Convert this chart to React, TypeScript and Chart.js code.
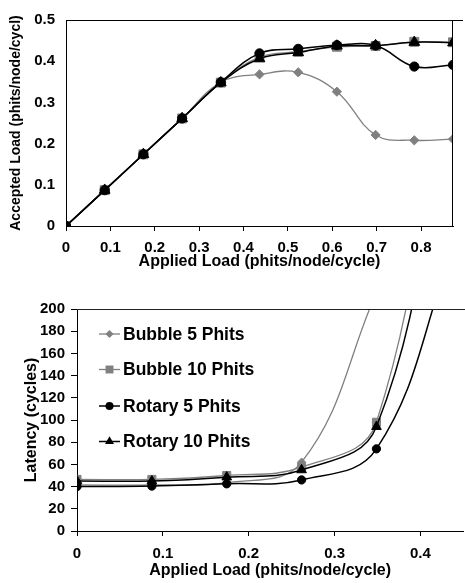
import React, { useEffect, useRef } from "react";
import { Chart, registerables } from "chart.js";

Chart.register(...registerables);

// ---------- data ----------
const loadSteps = [0, 0.0872, 0.1744, 0.2616, 0.3488, 0.436, 0.5232, 0.6104, 0.6976, 0.7848, 0.872];

const seriesNames = ["Bubble 5 Phits", "Bubble 10 Phits", "Rotary 5 Phits", "Rotary 10 Phits"];

// Accepted load (top chart)
const acceptedBubble5 = [0, 0.087, 0.174, 0.261, 0.349, 0.368, 0.373, 0.326, 0.221, 0.208, 0.211];
const acceptedBubble10 = [0, 0.087, 0.174, 0.261, 0.348, 0.41, 0.423, 0.435, 0.437, 0.447, 0.446];
const acceptedRotary5 = [0, 0.087, 0.174, 0.261, 0.349, 0.419, 0.43, 0.439, 0.438, 0.387, 0.391];
const acceptedRotary10 = [0, 0.087, 0.174, 0.261, 0.348, 0.406, 0.421, 0.437, 0.438, 0.446, 0.445];

// Latency (bottom chart)
const latencyBubble5 = [41.5, 41.5, 43.5, 62, 215];
const latencyBubble10 = [46.5, 46.5, 50, 57.5, 98, 480];
const latencyRotary5 = [40, 40.5, 42.5, 46, 74, 250];
const latencyRotary10 = [45, 45, 48.5, 55, 94, 400];

// ---------- styles ----------
const FONT = '"Liberation Sans", Arial, Helvetica, sans-serif';
const GRAY = "#808080";
const BLACK = "#000000";

const styles = [
  { color: GRAY, pointStyle: "rectRot", r: 4.6, width: 1.3, order: 3 },
  { color: GRAY, pointStyle: "rect", r: 6.3, width: 1.3, order: 2 },
  { color: BLACK, pointStyle: "circle", r: 4.6, width: 1.5, order: 0 },
  { color: BLACK, pointStyle: "triangle", r: 6.2, width: 1.5, order: 1 },
];

function toPoints(values: number[]) {
  return values.map((v, i) => ({ x: loadSteps[i], y: v }));
}

function makeDatasets(series: number[][], scale: number) {
  return series.map((vals, i) => ({
    label: seriesNames[i],
    data: toPoints(vals),
    borderColor: styles[i].color,
    backgroundColor: styles[i].color,
    borderWidth: styles[i].width,
    pointStyle: styles[i].pointStyle,
    pointRadius: styles[i].r * scale,
    pointBorderWidth: 1,
    pointBackgroundColor: styles[i].color,
    pointBorderColor: styles[i].color,
    tension: 0.4,
    capBezierPoints: false,
    order: styles[i].order,
    fill: false,
  }));
}

const framePlugin = {
  id: "frame",
  afterDatasetsDraw(chart: any, _args: any, opts: any) {
    const { ctx, chartArea } = chart;
    ctx.save();
    ctx.strokeStyle = opts.color || "#000";
    ctx.lineWidth = 1;
    ctx.beginPath();
    if (opts.top) {
      ctx.moveTo(chartArea.left, chartArea.top + 0.5);
      ctx.lineTo(chartArea.right + 10, chartArea.top + 0.5);
    }
    if (opts.right) {
      ctx.moveTo(chartArea.right - 0.5, chartArea.top);
      ctx.lineTo(chartArea.right - 0.5, chartArea.bottom);
    }
    ctx.stroke();
    ctx.restore();
  },
};

function drawMarker(ctx: CanvasRenderingContext2D, style: string, x: number, y: number, r: number) {
  ctx.beginPath();
  if (style === "circle") {
    ctx.arc(x, y, r, 0, Math.PI * 2);
  } else if (style === "rect") {
    const s = r * Math.SQRT1_2;
    ctx.rect(x - s, y - s, 2 * s, 2 * s);
  } else if (style === "rectRot") {
    ctx.moveTo(x, y - r);
    ctx.lineTo(x + r, y);
    ctx.lineTo(x, y + r);
    ctx.lineTo(x - r, y);
    ctx.closePath();
  } else if (style === "triangle") {
    for (let k = 0; k < 3; k++) {
      const a = (k * 2 * Math.PI) / 3;
      const px = x + Math.sin(a) * r;
      const py = y - Math.cos(a) * r;
      if (k === 0) ctx.moveTo(px, py);
      else ctx.lineTo(px, py);
    }
    ctx.closePath();
  }
  ctx.fill();
}

const legendPlugin = {
  id: "insideLegend",
  afterDraw(chart: any) {
    const { ctx, chartArea } = chart;
    ctx.save();
    const x0 = chartArea.left + 22;
    const x1 = chartArea.left + 43;
    const xm = (x0 + x1) / 2;
    const tx = chartArea.left + 46;
    const rows = [25, 60.5, 97, 132.5];
    ctx.font = `bold 17.5px ${FONT}`;
    ctx.textBaseline = "middle";
    ctx.textAlign = "left";
    seriesNames.forEach((name, i) => {
      const y = chartArea.top + rows[i];
      const st = styles[i];
      ctx.strokeStyle = st.color;
      ctx.fillStyle = st.color;
      ctx.lineWidth = st.width;
      ctx.beginPath();
      ctx.moveTo(x0, y);
      ctx.lineTo(x1, y);
      ctx.stroke();
      drawMarker(ctx, st.pointStyle, xm, y, st.pointStyle === "rectRot" ? 4 : st.pointStyle === "rect" ? 5.6 : st.pointStyle === "triangle" ? 5.2 : 4);
      ctx.fillStyle = "#000";
      ctx.fillText(name, tx, y + 1);
    });
    ctx.restore();
  },
};

const tickFont = { family: FONT, size: 15, weight: "bold" as const };

export default function App() {
  const topRef = useRef<HTMLCanvasElement | null>(null);
  const botRef = useRef<HTMLCanvasElement | null>(null);

  useEffect(() => {
    const top = new Chart(topRef.current as HTMLCanvasElement, {
      type: "line",
      data: {
        datasets: makeDatasets([acceptedBubble5, acceptedBubble10, acceptedRotary5, acceptedRotary10], 1) as any,
      },
      options: {
        animation: false,
        responsive: false,
        maintainAspectRatio: false,
        layout: { padding: { left: 0, right: 12, top: 7, bottom: 0 } },
        plugins: {
          legend: { display: false },
          tooltip: { enabled: false },
          frame: { top: true, right: true, color: "#000" },
        } as any,
        scales: {
          x: {
            type: "linear",
            min: 0,
            max: 0.872,
            ticks: { stepSize: 0.1, includeBounds: false, color: "#000", font: tickFont, padding: 8, maxRotation: 0, autoSkip: false },
            grid: { display: true, drawOnChartArea: false, drawTicks: true, tickLength: 5, color: "#000" },
            border: { display: true, color: "#000", width: 1 },
            title: {
              display: true,
              text: "Applied Load (phits/node/cycle)",
              color: "#000",
              font: { family: FONT, size: 16, weight: "bold" },
              padding: { top: 0, bottom: 4 },
            },
            afterFit: (s: any) => {
              s.height = 49;
            },
          },
          y: {
            type: "linear",
            min: 0,
            max: 0.5,
            ticks: { stepSize: 0.1, color: "#000", font: tickFont, padding: 11 },
            grid: { display: true, drawOnChartArea: false, drawTicks: false, color: "#000" },
            border: { display: true, color: "#000", width: 1 },
            title: {
              display: true,
              text: "Accepted Load (phits/node/cycl)",
              color: "#000",
              font: { family: FONT, size: 14, weight: "bold" },
              padding: { top: 8, bottom: 0 },
            },
            afterFit: (s: any) => {
              s.width = 66;
            },
          },
        },
      },
      plugins: [framePlugin],
    });

    const bot = new Chart(botRef.current as HTMLCanvasElement, {
      type: "line",
      data: {
        datasets: makeDatasets([latencyBubble5, latencyBubble10, latencyRotary5, latencyRotary10], 0.9) as any,
      },
      options: {
        animation: false,
        responsive: false,
        maintainAspectRatio: false,
        layout: { padding: { left: 0, right: 1, top: 29, bottom: 0 } },
        plugins: {
          legend: { display: false },
          tooltip: { enabled: false },
          frame: { top: true, right: false, color: "#222" },
        } as any,
        scales: {
          x: {
            type: "linear",
            min: 0,
            max: 0.45,
            ticks: { stepSize: 0.1, includeBounds: false, color: "#000", font: tickFont, padding: 9, maxRotation: 0, autoSkip: false },
            grid: { display: true, drawOnChartArea: false, drawTicks: true, tickLength: 5, color: "#000" },
            border: { display: true, color: "#000", width: 1 },
            title: {
              display: true,
              text: "Applied Load (phits/node/cycle)",
              color: "#000",
              font: { family: FONT, size: 16, weight: "bold" },
              padding: { top: 0, bottom: 3 },
            },
            afterFit: (s: any) => {
              s.height = 52;
            },
          },
          y: {
            type: "linear",
            min: 0,
            max: 200,
            ticks: { stepSize: 20, color: "#000", font: tickFont, padding: 6 },
            grid: { display: true, drawOnChartArea: false, drawTicks: true, tickLength: 6, color: "#000" },
            border: { display: true, color: "#000", width: 1 },
            title: {
              display: true,
              text: "Latency (cycles)",
              color: "#000",
              font: { family: FONT, size: 16, weight: "bold" },
              padding: { top: 22, bottom: 0 },
            },
            afterFit: (s: any) => {
              s.width = 77;
            },
          },
        },
      },
      plugins: [framePlugin, legendPlugin],
    });

    return () => {
      top.destroy();
      bot.destroy();
    };
  }, []);

  return (
    <div style={{ position: "absolute", left: 0, top: 0, width: 465, height: 583, overflow: "hidden", background: "#fff" }}>
      <canvas ref={topRef} width={465} height={275} style={{ position: "absolute", left: 0, top: 0, width: 465, height: 275 }} />
      <canvas ref={botRef} width={470} height={303} style={{ position: "absolute", left: 0, top: 280, width: 470, height: 303 }} />
    </div>
  );
}
